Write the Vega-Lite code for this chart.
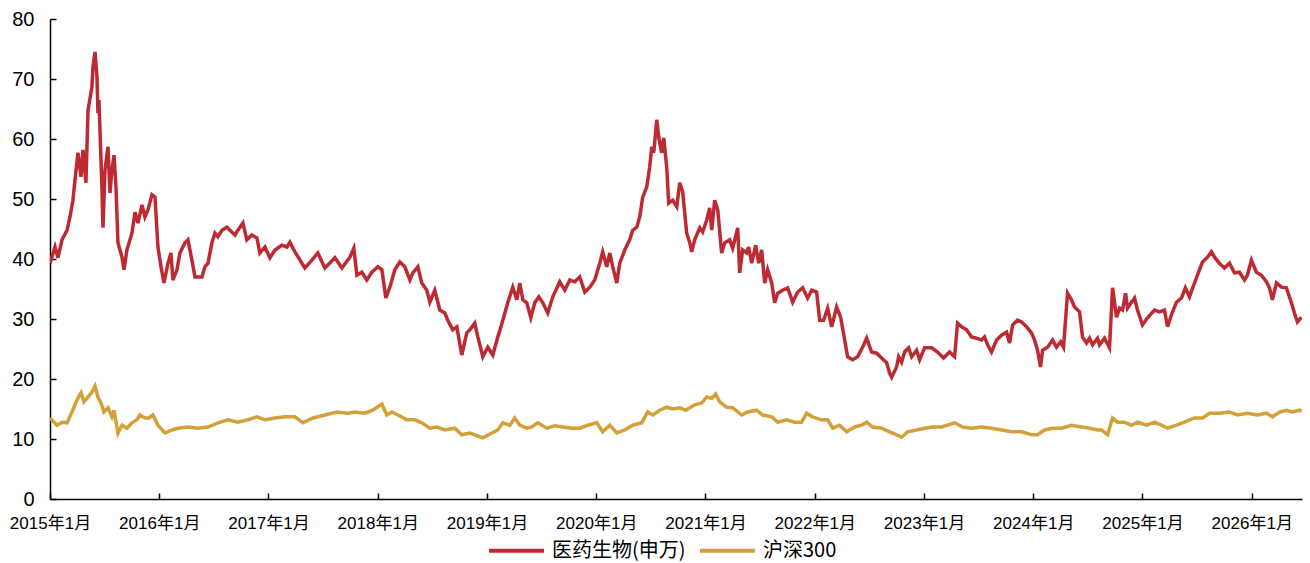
{
 "$schema": "https://vega.github.io/schema/vega-lite/v6.json",
 "width": 1252, "height": 480,
 "autosize": {"type": "none"},
 "padding": {"left": 50, "top": 19, "right": 8, "bottom": 64},
 "background": "white",
 "config": {
  "view": {"stroke": null},
  "font": "Liberation Sans, Noto Sans CJK SC",
  "axis": {"domainColor": "black", "domainWidth": 1.5, "tickColor": "black", "tickWidth": 1.5, "tickSize": -6, "labelColor": "black", "grid": false, "title": null, "labelFont": "Liberation Sans, Noto Sans CJK SC"}
 },
 "layer": [
  {
   "data": {"values": [
{"t":2015.000,"v":39.3},{"t":2015.046,"v":42},{"t":2015.073,"v":40.2},{"t":2015.110,"v":43.2},{"t":2015.156,"v":44.8},{"t":2015.183,"v":47},{"t":2015.210,"v":49.8},{"t":2015.229,"v":53.2},{"t":2015.256,"v":57.7},{"t":2015.284,"v":53.7},{"t":2015.302,"v":58.2},{"t":2015.329,"v":52.7},{"t":2015.348,"v":64.8},{"t":2015.384,"v":68.7},{"t":2015.393,"v":72},{"t":2015.412,"v":74.5},{"t":2015.430,"v":70.3},{"t":2015.439,"v":64.3},{"t":2015.448,"v":66.5},{"t":2015.476,"v":51.5},{"t":2015.485,"v":45.2},{"t":2015.503,"v":54.8},{"t":2015.531,"v":58.7},{"t":2015.549,"v":51},{"t":2015.567,"v":54.8},{"t":2015.586,"v":57.3},{"t":2015.604,"v":52},{"t":2015.622,"v":42.7},{"t":2015.659,"v":40.3},{"t":2015.677,"v":38.2},{"t":2015.704,"v":41.5},{"t":2015.750,"v":44.3},{"t":2015.778,"v":47.8},{"t":2015.805,"v":46},{"t":2015.842,"v":49},{"t":2015.869,"v":47},{"t":2015.897,"v":48.2},{"t":2015.933,"v":50.7},{"t":2015.961,"v":50.3},{"t":2015.988,"v":42},{"t":2016.016,"v":38.7},{"t":2016.043,"v":36},{"t":2016.080,"v":39.3},{"t":2016.107,"v":41},{"t":2016.125,"v":36.5},{"t":2016.162,"v":38.2},{"t":2016.189,"v":41},{"t":2016.235,"v":42.7},{"t":2016.263,"v":43.2},{"t":2016.299,"v":39.8},{"t":2016.327,"v":37},{"t":2016.391,"v":37},{"t":2016.418,"v":38.7},{"t":2016.446,"v":39.3},{"t":2016.482,"v":42.7},{"t":2016.510,"v":44.3},{"t":2016.537,"v":43.7},{"t":2016.574,"v":44.8},{"t":2016.619,"v":45.3},{"t":2016.647,"v":44.8},{"t":2016.693,"v":44},{"t":2016.720,"v":44.8},{"t":2016.766,"v":46},{"t":2016.802,"v":43.2},{"t":2016.848,"v":44},{"t":2016.894,"v":43.5},{"t":2016.921,"v":41},{"t":2016.967,"v":42},{"t":2017.013,"v":40.2},{"t":2017.059,"v":41.5},{"t":2017.123,"v":42.3},{"t":2017.168,"v":42},{"t":2017.196,"v":42.8},{"t":2017.242,"v":41.2},{"t":2017.333,"v":38.5},{"t":2017.397,"v":39.8},{"t":2017.452,"v":41},{"t":2017.516,"v":38.5},{"t":2017.608,"v":40.2},{"t":2017.672,"v":38.5},{"t":2017.745,"v":40.3},{"t":2017.781,"v":41.8},{"t":2017.809,"v":37.3},{"t":2017.855,"v":37.8},{"t":2017.900,"v":36.5},{"t":2017.946,"v":37.8},{"t":2018.001,"v":38.7},{"t":2018.038,"v":38.2},{"t":2018.074,"v":33.5},{"t":2018.111,"v":35.3},{"t":2018.156,"v":38.2},{"t":2018.202,"v":39.5},{"t":2018.248,"v":38.7},{"t":2018.294,"v":36.5},{"t":2018.321,"v":37.7},{"t":2018.367,"v":38.7},{"t":2018.403,"v":36},{"t":2018.449,"v":34.8},{"t":2018.477,"v":32.8},{"t":2018.522,"v":34.8},{"t":2018.568,"v":31.5},{"t":2018.614,"v":31},{"t":2018.641,"v":29.8},{"t":2018.687,"v":28.2},{"t":2018.724,"v":28.7},{"t":2018.769,"v":24},{"t":2018.815,"v":27.7},{"t":2018.843,"v":28.2},{"t":2018.888,"v":29.3},{"t":2018.916,"v":27},{"t":2018.962,"v":23.7},{"t":2019.007,"v":25.3},{"t":2019.053,"v":24},{"t":2019.099,"v":27},{"t":2019.145,"v":29.8},{"t":2019.190,"v":32.7},{"t":2019.236,"v":35.3},{"t":2019.273,"v":33.2},{"t":2019.300,"v":36},{"t":2019.328,"v":33.2},{"t":2019.364,"v":32.7},{"t":2019.401,"v":30.2},{"t":2019.437,"v":32.7},{"t":2019.474,"v":33.7},{"t":2019.511,"v":32.7},{"t":2019.556,"v":31},{"t":2019.602,"v":33.7},{"t":2019.666,"v":36.2},{"t":2019.712,"v":34.8},{"t":2019.758,"v":36.5},{"t":2019.803,"v":36.2},{"t":2019.849,"v":37},{"t":2019.895,"v":34.5},{"t":2019.941,"v":35.3},{"t":2019.986,"v":36.5},{"t":2020.032,"v":39.3},{"t":2020.059,"v":41.2},{"t":2020.096,"v":38.7},{"t":2020.124,"v":41},{"t":2020.151,"v":38.7},{"t":2020.188,"v":36},{"t":2020.215,"v":39.3},{"t":2020.261,"v":41.5},{"t":2020.306,"v":43.2},{"t":2020.334,"v":44.8},{"t":2020.371,"v":45.3},{"t":2020.398,"v":47},{"t":2020.425,"v":50.3},{"t":2020.462,"v":52},{"t":2020.489,"v":55.3},{"t":2020.508,"v":58.7},{"t":2020.526,"v":57.7},{"t":2020.554,"v":63.2},{"t":2020.572,"v":60.3},{"t":2020.599,"v":57.7},{"t":2020.618,"v":60.2},{"t":2020.645,"v":55.3},{"t":2020.663,"v":49.3},{"t":2020.700,"v":49.8},{"t":2020.737,"v":48.7},{"t":2020.764,"v":52.7},{"t":2020.791,"v":51.2},{"t":2020.828,"v":44.3},{"t":2020.856,"v":42.7},{"t":2020.874,"v":41.2},{"t":2020.901,"v":43.2},{"t":2020.947,"v":45.2},{"t":2020.974,"v":44.5},{"t":2021.011,"v":46.5},{"t":2021.038,"v":48.5},{"t":2021.057,"v":44.8},{"t":2021.084,"v":49.8},{"t":2021.112,"v":48.2},{"t":2021.148,"v":41},{"t":2021.176,"v":42.7},{"t":2021.221,"v":43.2},{"t":2021.249,"v":41.8},{"t":2021.295,"v":45.2},{"t":2021.313,"v":37.7},{"t":2021.340,"v":41.5},{"t":2021.377,"v":41},{"t":2021.395,"v":42},{"t":2021.423,"v":39.3},{"t":2021.459,"v":42.3},{"t":2021.487,"v":39.3},{"t":2021.514,"v":41.5},{"t":2021.542,"v":36},{"t":2021.569,"v":38.2},{"t":2021.606,"v":36},{"t":2021.633,"v":32.7},{"t":2021.661,"v":34.3},{"t":2021.706,"v":34.8},{"t":2021.752,"v":35.2},{"t":2021.798,"v":32.8},{"t":2021.844,"v":34.5},{"t":2021.889,"v":35.2},{"t":2021.935,"v":33.5},{"t":2021.972,"v":34.8},{"t":2022.017,"v":34.5},{"t":2022.045,"v":29.8},{"t":2022.081,"v":29.8},{"t":2022.118,"v":31.8},{"t":2022.155,"v":28.7},{"t":2022.200,"v":32},{"t":2022.237,"v":30.3},{"t":2022.274,"v":26.5},{"t":2022.301,"v":23.7},{"t":2022.347,"v":23.2},{"t":2022.392,"v":23.7},{"t":2022.438,"v":25.3},{"t":2022.475,"v":26.8},{"t":2022.521,"v":24.5},{"t":2022.566,"v":24.3},{"t":2022.612,"v":23.5},{"t":2022.658,"v":22.7},{"t":2022.685,"v":21},{"t":2022.704,"v":20.3},{"t":2022.749,"v":22},{"t":2022.768,"v":23.7},{"t":2022.795,"v":22.8},{"t":2022.823,"v":24.5},{"t":2022.859,"v":25.2},{"t":2022.887,"v":23.7},{"t":2022.932,"v":24.8},{"t":2022.960,"v":23.2},{"t":2023.005,"v":25.2},{"t":2023.070,"v":25.2},{"t":2023.124,"v":24.5},{"t":2023.179,"v":23.5},{"t":2023.234,"v":24.5},{"t":2023.280,"v":23.7},{"t":2023.307,"v":29.3},{"t":2023.344,"v":28.7},{"t":2023.390,"v":28.2},{"t":2023.435,"v":27},{"t":2023.481,"v":26.8},{"t":2023.527,"v":26.5},{"t":2023.554,"v":27},{"t":2023.582,"v":25.7},{"t":2023.618,"v":24.5},{"t":2023.664,"v":26.5},{"t":2023.710,"v":27.3},{"t":2023.756,"v":27.8},{"t":2023.783,"v":26},{"t":2023.811,"v":29},{"t":2023.856,"v":29.8},{"t":2023.893,"v":29.5},{"t":2023.939,"v":28.7},{"t":2023.984,"v":27.7},{"t":2024.012,"v":26.5},{"t":2024.039,"v":24.8},{"t":2024.067,"v":22},{"t":2024.085,"v":24.8},{"t":2024.131,"v":25.3},{"t":2024.177,"v":26.5},{"t":2024.213,"v":25.3},{"t":2024.250,"v":26.2},{"t":2024.277,"v":25.3},{"t":2024.314,"v":34.3},{"t":2024.350,"v":33.2},{"t":2024.378,"v":32},{"t":2024.424,"v":31.2},{"t":2024.451,"v":27},{"t":2024.488,"v":26},{"t":2024.515,"v":26.8},{"t":2024.543,"v":25.7},{"t":2024.588,"v":26.8},{"t":2024.607,"v":25.7},{"t":2024.652,"v":26.8},{"t":2024.698,"v":25.2},{"t":2024.726,"v":35.2},{"t":2024.762,"v":30.3},{"t":2024.790,"v":31.8},{"t":2024.817,"v":31.5},{"t":2024.845,"v":34.3},{"t":2024.863,"v":31.8},{"t":2024.899,"v":32.8},{"t":2024.927,"v":33.5},{"t":2024.954,"v":31.5},{"t":2025.000,"v":29},{"t":2025.046,"v":30.2},{"t":2025.110,"v":31.5},{"t":2025.155,"v":31.2},{"t":2025.201,"v":31.5},{"t":2025.229,"v":28.7},{"t":2025.265,"v":30.7},{"t":2025.311,"v":32.8},{"t":2025.357,"v":33.5},{"t":2025.393,"v":35.2},{"t":2025.430,"v":33.7},{"t":2025.476,"v":36},{"t":2025.521,"v":38.2},{"t":2025.549,"v":39.5},{"t":2025.595,"v":40.3},{"t":2025.631,"v":41.2},{"t":2025.659,"v":40.3},{"t":2025.704,"v":39.3},{"t":2025.750,"v":38.5},{"t":2025.796,"v":39.3},{"t":2025.842,"v":37.7},{"t":2025.887,"v":37.8},{"t":2025.933,"v":36.5},{"t":2025.960,"v":37.3},{"t":2025.997,"v":39.8},{"t":2026.043,"v":37.8},{"t":2026.089,"v":37.3},{"t":2026.134,"v":36.2},{"t":2026.162,"v":35.2},{"t":2026.189,"v":33.2},{"t":2026.226,"v":36},{"t":2026.272,"v":35.3},{"t":2026.317,"v":35.2},{"t":2026.363,"v":32.7},{"t":2026.391,"v":31},{"t":2026.418,"v":29.5},{"t":2026.455,"v":30.3}
   ]},
   "mark": {"type": "line", "strokeWidth": 3.5, "clip": true},
   "encoding": {
    "x": {"field": "t", "type": "quantitative", "scale": {"domain": [2015, 2026.46], "nice": false, "zero": false},
          "axis": {"values": [2015,2016,2017,2018,2019,2020,2021,2022,2023,2024,2025,2026], "labelExpr": "datum.value + '年1月'", "labelFontSize": 17, "labelPadding": 22, "labelFlush": false}},
    "y": {"field": "v", "type": "quantitative", "scale": {"domain": [0, 80], "nice": false},
          "axis": {"values": [0,10,20,30,40,50,60,70,80], "labelFontSize": 20, "labelPadding": 22}},
    "color": {"datum": "医药生物(申万)", "type": "nominal",
              "scale": {"domain": ["医药生物(申万)", "沪深300"], "range": ["#BD2A32", "#D4A03A"]},
              "legend": {"orient": "none", "legendX": 437, "legendY": 502, "direction": "horizontal", "title": null, "symbolType": "stroke", "symbolSize": 3025, "symbolStrokeWidth": 4, "labelFontSize": 20, "labelFont": "Noto Sans CJK SC", "labelColor": "black", "labelOffset": 6, "labelLimit": 300, "columnPadding": 6, "padding": 0}}
   }
  },
  {
   "data": {"values": [
{"t":2015.000,"v":13.5},{"t":2015.064,"v":12.3},{"t":2015.110,"v":12.8},{"t":2015.156,"v":12.7},{"t":2015.201,"v":14.5},{"t":2015.247,"v":16.5},{"t":2015.284,"v":17.7},{"t":2015.311,"v":16.2},{"t":2015.348,"v":17},{"t":2015.384,"v":17.8},{"t":2015.412,"v":18.8},{"t":2015.439,"v":17},{"t":2015.467,"v":16},{"t":2015.494,"v":14.5},{"t":2015.531,"v":15.2},{"t":2015.567,"v":13.7},{"t":2015.586,"v":14.8},{"t":2015.622,"v":11},{"t":2015.659,"v":12.3},{"t":2015.704,"v":11.8},{"t":2015.750,"v":12.7},{"t":2015.796,"v":13.2},{"t":2015.823,"v":14},{"t":2015.869,"v":13.5},{"t":2015.906,"v":13.5},{"t":2015.942,"v":14},{"t":2015.988,"v":12.3},{"t":2016.052,"v":11},{"t":2016.116,"v":11.5},{"t":2016.171,"v":11.8},{"t":2016.263,"v":12},{"t":2016.354,"v":11.8},{"t":2016.446,"v":12},{"t":2016.537,"v":12.7},{"t":2016.629,"v":13.2},{"t":2016.720,"v":12.8},{"t":2016.812,"v":13.2},{"t":2016.894,"v":13.7},{"t":2016.967,"v":13.2},{"t":2017.059,"v":13.5},{"t":2017.150,"v":13.7},{"t":2017.242,"v":13.7},{"t":2017.315,"v":12.7},{"t":2017.406,"v":13.5},{"t":2017.516,"v":14},{"t":2017.626,"v":14.5},{"t":2017.726,"v":14.3},{"t":2017.790,"v":14.5},{"t":2017.882,"v":14.3},{"t":2017.955,"v":14.8},{"t":2018.038,"v":15.8},{"t":2018.083,"v":14},{"t":2018.129,"v":14.5},{"t":2018.184,"v":14},{"t":2018.266,"v":13.2},{"t":2018.339,"v":13.2},{"t":2018.403,"v":12.7},{"t":2018.477,"v":11.8},{"t":2018.541,"v":12},{"t":2018.614,"v":11.5},{"t":2018.705,"v":11.8},{"t":2018.769,"v":10.7},{"t":2018.843,"v":11},{"t":2018.888,"v":10.7},{"t":2018.962,"v":10.2},{"t":2019.044,"v":11},{"t":2019.099,"v":11.5},{"t":2019.145,"v":12.7},{"t":2019.209,"v":12.3},{"t":2019.254,"v":13.5},{"t":2019.300,"v":12.3},{"t":2019.364,"v":11.8},{"t":2019.410,"v":12},{"t":2019.465,"v":12.7},{"t":2019.547,"v":11.8},{"t":2019.620,"v":12.2},{"t":2019.694,"v":12},{"t":2019.776,"v":11.8},{"t":2019.849,"v":11.8},{"t":2019.922,"v":12.3},{"t":2020.005,"v":12.7},{"t":2020.059,"v":11.2},{"t":2020.124,"v":12.3},{"t":2020.188,"v":11},{"t":2020.261,"v":11.5},{"t":2020.334,"v":12.3},{"t":2020.416,"v":12.7},{"t":2020.471,"v":14.5},{"t":2020.517,"v":14},{"t":2020.581,"v":14.8},{"t":2020.645,"v":15.3},{"t":2020.700,"v":15},{"t":2020.764,"v":15.2},{"t":2020.819,"v":14.8},{"t":2020.901,"v":15.7},{"t":2020.965,"v":16},{"t":2021.011,"v":17},{"t":2021.057,"v":16.8},{"t":2021.093,"v":17.5},{"t":2021.130,"v":16.2},{"t":2021.194,"v":15.3},{"t":2021.249,"v":15.2},{"t":2021.331,"v":14},{"t":2021.386,"v":14.5},{"t":2021.468,"v":14.8},{"t":2021.523,"v":14},{"t":2021.606,"v":13.7},{"t":2021.661,"v":12.8},{"t":2021.743,"v":13.2},{"t":2021.816,"v":12.8},{"t":2021.880,"v":12.8},{"t":2021.926,"v":14.3},{"t":2021.981,"v":13.7},{"t":2022.063,"v":13.2},{"t":2022.118,"v":13.2},{"t":2022.164,"v":11.8},{"t":2022.228,"v":12.3},{"t":2022.292,"v":11.2},{"t":2022.365,"v":12},{"t":2022.429,"v":12.3},{"t":2022.475,"v":12.8},{"t":2022.530,"v":12},{"t":2022.612,"v":11.8},{"t":2022.685,"v":11.2},{"t":2022.713,"v":11},{"t":2022.795,"v":10.3},{"t":2022.850,"v":11.2},{"t":2022.932,"v":11.5},{"t":2023.005,"v":11.8},{"t":2023.079,"v":12},{"t":2023.161,"v":12},{"t":2023.216,"v":12.3},{"t":2023.280,"v":12.7},{"t":2023.353,"v":12},{"t":2023.435,"v":11.8},{"t":2023.527,"v":12},{"t":2023.618,"v":11.8},{"t":2023.710,"v":11.5},{"t":2023.801,"v":11.2},{"t":2023.893,"v":11.2},{"t":2023.984,"v":10.7},{"t":2024.039,"v":10.7},{"t":2024.103,"v":11.5},{"t":2024.177,"v":11.8},{"t":2024.259,"v":11.8},{"t":2024.350,"v":12.3},{"t":2024.442,"v":12},{"t":2024.515,"v":11.8},{"t":2024.588,"v":11.5},{"t":2024.625,"v":11.5},{"t":2024.680,"v":10.7},{"t":2024.726,"v":13.5},{"t":2024.771,"v":12.8},{"t":2024.835,"v":12.8},{"t":2024.899,"v":12.3},{"t":2024.954,"v":12.8},{"t":2025.037,"v":12.3},{"t":2025.110,"v":12.8},{"t":2025.174,"v":12.3},{"t":2025.229,"v":11.8},{"t":2025.311,"v":12.3},{"t":2025.384,"v":12.8},{"t":2025.476,"v":13.5},{"t":2025.549,"v":13.5},{"t":2025.613,"v":14.3},{"t":2025.704,"v":14.3},{"t":2025.796,"v":14.5},{"t":2025.869,"v":14},{"t":2025.960,"v":14.3},{"t":2026.052,"v":14},{"t":2026.134,"v":14.3},{"t":2026.189,"v":13.7},{"t":2026.253,"v":14.5},{"t":2026.317,"v":14.8},{"t":2026.372,"v":14.5},{"t":2026.437,"v":14.8},{"t":2026.455,"v":14.6}
   ]},
   "mark": {"type": "line", "strokeWidth": 3.5, "clip": true},
   "encoding": {
    "x": {"field": "t", "type": "quantitative"},
    "y": {"field": "v", "type": "quantitative"},
    "color": {"datum": "沪深300", "type": "nominal"}
   }
  }
 ]
}
